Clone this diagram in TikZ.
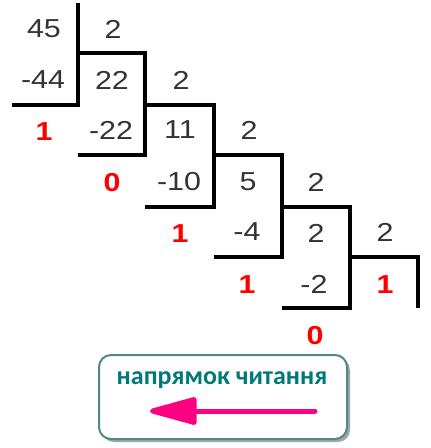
\documentclass[tikz,border=0pt]{standalone}
\usepackage{fontspec}
\setmainfont{Liberation Sans}
\newfontfamily\numfont[FakeStretch=1.17]{Liberation Sans}
\newfontfamily\labfont{Carlito}
\usetikzlibrary{arrows.meta,shadows}
\definecolor{numgray}{HTML}{333333}
\definecolor{remred}{HTML}{FF0000}
\definecolor{boxteal}{HTML}{4F8A87}
\definecolor{textteal}{HTML}{007A78}
\definecolor{arrowpink}{HTML}{FF0080}
\begin{document}
\begin{tikzpicture}[x=1pt,y=-1pt,
  num/.style={font=\numfont\fontsize{26}{26}\selectfont, text=numgray, inner sep=0pt},
  rem/.style={font=\numfont\fontsize{26}{26}\selectfont\bfseries, text=remred, inner sep=0pt},
  divline/.style={line width=4.2pt, line join=miter, black},
  labelbox/.style={draw=boxteal, line width=2pt, rounded corners=12pt, fill=white,
    minimum width=248pt, minimum height=84pt, inner sep=0pt,
    drop shadow={shadow xshift=3pt, shadow yshift=-3pt, opacity=0.55, fill=black!65}},
  labeltext/.style={font=\labfont\fontsize{26}{26}\selectfont\bfseries, text=textteal, inner sep=0pt},
  readarrow/.style={line width=5pt, arrowpink, line cap=round, -{Triangle[length=54pt,width=28pt,round=false]}}
  ]
\useasboundingbox (0,0) rectangle (431,448);
% division lines
\draw[divline] (78,3) -- (78,105) -- (12,105);
\draw[divline] (78,53) -- (145,53) -- (145,155) -- (78,155);
\draw[divline] (145,105) -- (214,105) -- (214,207) -- (145,207);
\draw[divline] (214,155) -- (282,155) -- (282,257) -- (214,257);
\draw[divline] (282,207) -- (350,207) -- (350,308) -- (282,308);
\draw[divline] (350,257) -- (418,257) -- (418,308);
% numbers
\node[num] (n45) at (44,29) {45};
\node[num] (d1) at (113,29) {2};
\node[num] (s44) at (43,80) {-44};
\node[num] (n22) at (112,80) {22};
\node[num] (d2) at (181,80) {2};
\node[rem] (r1) at (44,132) {1};
\node[num] (s22) at (111,130) {-22};
\node[num] (n11) at (180,130) {11};
\node[num] (d3) at (249,130) {2};
\node[rem] (r2) at (112,183) {0};
\node[num] (s10) at (179,182) {-10};
\node[num] (n5) at (248,182) {5};
\node[num] (d4) at (316,182) {2};
\node[rem] (r3) at (180,234) {1};
\node[num] (s4) at (247,232) {-4};
\node[num] (n2) at (316,233) {2};
\node[num] (d5) at (385,232) {2};
\node[rem] (r4) at (247,285) {1};
\node[num] (s2) at (314,284) {-2};
\node[rem] (r5) at (385,285) {1};
\node[rem] (r6) at (315,336) {0};
% legend box
\node[labelbox] (box) at (223,397) {};
\node[labeltext] (lab) at (222,380) {напрямок читання};
\coordinate (atail) at (315,411);
\coordinate (ahead) at (150,411);
\draw[readarrow] (atail) -- (ahead);
\end{tikzpicture}
\end{document}
